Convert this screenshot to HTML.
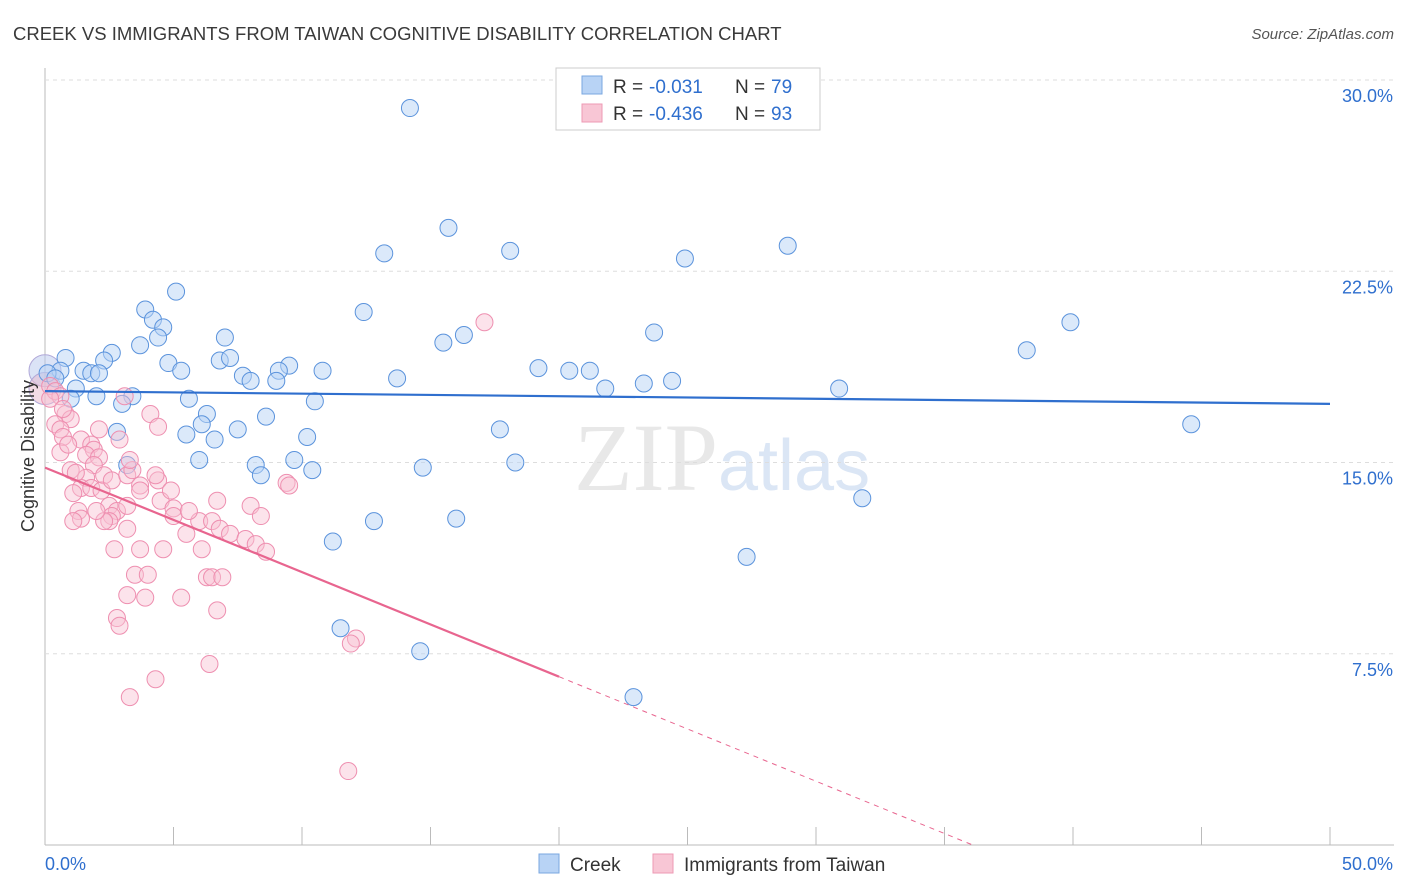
<!DOCTYPE html>
<html><head><meta charset="utf-8"><style>
body{margin:0;background:#fff;font-family:"Liberation Sans",sans-serif;}
svg{display:block}
</style></head><body>
<svg id="c" width="1406" height="892">
<text x="13" y="40" font-size="18.5" fill="#3a3a3a">CREEK VS IMMIGRANTS FROM TAIWAN COGNITIVE DISABILITY CORRELATION CHART</text>
<text x="1394" y="39" font-size="15" fill="#555" text-anchor="end" font-style="italic">Source: ZipAtlas.com</text>
<text x="718" y="490" font-size="96" fill="#e8e8e8" text-anchor="end" font-family="Liberation Serif">ZIP</text>
<text x="718" y="490" font-size="72" fill="#dbe6f5">atlas</text>
<g id="grid"></g><g id="marks"></g>
<text transform="translate(34,456) rotate(-90)" font-size="18" fill="#333" text-anchor="middle">Cognitive Disability</text>
<g>
<rect x="556" y="68" width="264" height="62" fill="#fff" stroke="#ccc"/>
<rect x="582" y="76" width="20" height="18" fill="#b8d3f5" stroke="#7aa7e0"/>
<rect x="582" y="104" width="20" height="18" fill="#f8c6d5" stroke="#ee9ab4"/>
<text x="613" y="93" font-size="19" fill="#333">R =</text>
<text x="649" y="93" font-size="19" fill="#2f6fce">-0.031</text>
<text x="735" y="93" font-size="19" fill="#333">N =</text>
<text x="771" y="93" font-size="19" fill="#2f6fce">79</text>
<text x="613" y="120" font-size="19" fill="#333">R =</text>
<text x="649" y="120" font-size="19" fill="#2f6fce">-0.436</text>
<text x="735" y="120" font-size="19" fill="#333">N =</text>
<text x="771" y="120" font-size="19" fill="#2f6fce">93</text>
</g>
<g>
<rect x="539" y="854" width="20" height="19" fill="#b8d3f5" stroke="#7aa7e0"/>
<text x="570" y="871" font-size="19" fill="#333">Creek</text>
<rect x="653" y="854" width="20" height="19" fill="#f8c6d5" stroke="#ee9ab4"/>
<text x="684" y="871" font-size="19" fill="#333">Immigrants from Taiwan</text>
</g>
</svg>
<script>
const yTicks=[7.5,15,22.5,30];
const yTickLabels=["7.5%","15.0%","22.5%","30.0%"];
const xTickLabels=["0.0%","50.0%"];
const creekX=[14.2,15.7,13.2,18.1,24.9,28.9,5.1,3.9,4.2,4.6,12.4,39.9,23.7,16.3,15.5,7.0,3.7,4.4,0.8,2.6,2.3,4.8,6.8,7.2,9.5,5.3,1.5,1.8,2.1,0.6,7.7,9.1,9.0,8.0,10.8,19.2,20.4,21.2,13.7,23.3,24.4,21.8,30.9,38.2,1.2,2.0,1.0,3.4,3.0,5.6,10.5,6.3,8.6,6.1,7.5,6.6,5.5,2.8,10.2,17.7,44.6,6.0,3.2,8.2,8.4,9.7,10.4,14.7,18.3,31.8,12.8,16.0,11.2,27.3,11.5,14.6,22.9,0.1,0.4];
const creekY=[28.9,24.2,23.2,23.3,23.0,23.5,21.7,21.0,20.6,20.3,20.9,20.5,20.1,20.0,19.7,19.9,19.6,19.9,19.1,19.3,19.0,18.9,19.0,19.1,18.8,18.6,18.6,18.5,18.5,18.6,18.4,18.6,18.2,18.2,18.6,18.7,18.6,18.6,18.3,18.1,18.2,17.9,17.9,19.4,17.9,17.6,17.5,17.6,17.3,17.5,17.4,16.9,16.8,16.5,16.3,15.9,16.1,16.2,16.0,16.3,16.5,15.1,14.9,14.9,14.5,15.1,14.7,14.8,15.0,13.6,12.7,12.8,11.9,11.3,8.5,7.6,5.8,18.5,18.3];
const taiwanX=[17.1,0.2,0.4,0.6,0.2,0.8,0.4,1.0,0.6,0.7,1.4,1.8,1.9,1.6,0.6,2.1,1.0,1.9,2.3,1.6,1.4,1.1,1.8,2.2,2.6,4.1,4.4,3.1,2.5,2.8,3.2,1.3,1.4,1.1,2.6,2.5,2.3,3.2,2.7,3.7,4.6,4.4,4.5,5.0,5.5,6.0,6.5,6.7,6.8,7.2,8.0,8.4,7.8,8.2,8.6,9.4,9.5,3.2,3.7,4.9,4.3,5.0,6.1,3.5,4.0,6.3,6.5,6.9,3.2,3.9,5.3,6.7,2.8,2.9,12.1,11.9,6.4,4.3,3.3,11.8,3.4,2.1,2.9,0.9,1.2,3.3,3.7,2.0,5.6,0.7];
const taiwanY=[20.5,18.0,17.8,17.6,17.5,16.9,16.5,16.7,16.3,16.0,15.9,15.7,15.5,15.3,15.4,15.2,14.7,14.9,14.5,14.4,14.0,13.8,14.0,13.9,14.3,16.9,16.4,17.6,13.3,13.1,13.3,13.1,12.8,12.7,12.9,12.7,12.7,12.4,11.6,11.6,11.6,14.3,13.5,13.2,12.2,12.7,12.7,13.5,12.4,12.2,13.3,12.9,12.0,11.8,11.5,14.2,14.1,14.5,14.1,13.9,14.5,12.9,11.6,10.6,10.6,10.5,10.5,10.5,9.8,9.7,9.7,9.2,8.9,8.6,8.1,7.9,7.1,6.5,5.8,2.9,14.7,16.3,15.9,15.7,14.6,15.1,13.9,13.1,13.1,17.1];
const creekTrend=[17.8,17.3];
const taiwanTrend=[14.8,6.6];
const taiwanSolidEnd=20;

const X0=45,X1=1330,Y0=845,Y30=80;
const sx=v=>X0+(X1-X0)*v/50;
const sy=v=>Y0-(Y0-Y30)*v/30;
const NS="http://www.w3.org/2000/svg";
function mk(tag,attrs,parent){const e=document.createElementNS(NS,tag);for(const k in attrs)e.setAttribute(k,attrs[k]);parent.appendChild(e);return e;}
const grid=document.getElementById('grid'),marks=document.getElementById('marks');
let e=mk('line',{x1:X0,x2:X0,y1:68,y2:Y0,stroke:'#bbb'},grid);


e=mk('line',{x1:X0,x2:1394,y1:Y0,y2:Y0,stroke:'#bbb'},grid);


yTicks.forEach((t,i)=>{
  const g=mk('line',{x1:X0,x2:1394,y1:sy(t),y2:sy(t),stroke:'#ddd','stroke-dasharray':'4,4'},grid);
  
  
  const l=mk('text',{x:1393,y:sy(t)+22,'font-size':18,fill:'#2f6fce','text-anchor':'end'},grid);l.textContent=yTickLabels[i];
  
  
});
for(let i=0;i<=10;i++){const t=mk('line',{x1:sx(i*5),x2:sx(i*5),y1:Y0,y2:Y0-18,stroke:'#bbb'},grid);
  
  }
[[0,'start',45],[50,'end',1393]].forEach((d,i)=>{const l=mk('text',{x:d[2],y:870,'font-size':18,fill:'#2f6fce','text-anchor':d[1]},grid);l.textContent=xTickLabels[i];
  
  });
[[0,18.6,'#b8c8ee'],[0,17.9,'#e8b8cc']].forEach(d=>{const c=mk('circle',{cx:sx(d[0]),cy:sy(d[1]),r:16,fill:d[2],'fill-opacity':0.5,stroke:'#b0a8d8'},marks);
  
  });
creekX.forEach((x,i)=>{const c=mk('circle',{cx:sx(x),cy:sy(creekY[i]),r:8.5,fill:'#b8d3f5','fill-opacity':0.5,stroke:'#5b93dc','stroke-width':1},marks);
  
  });
taiwanX.forEach((x,i)=>{const c=mk('circle',{cx:sx(x),cy:sy(taiwanY[i]),r:8.5,fill:'#f8c0d2','fill-opacity':0.45,stroke:'#ee8fb0','stroke-width':1},marks);
  
  });
e=mk('line',{x1:sx(0),y1:sy(creekTrend[0]),x2:sx(50),y2:sy(creekTrend[1]),stroke:'#2f6fce','stroke-width':2.2},marks);


const slope=(taiwanTrend[1]-taiwanTrend[0])/taiwanSolidEnd;
e=mk('line',{x1:sx(0),y1:sy(taiwanTrend[0]),x2:sx(taiwanSolidEnd),y2:sy(taiwanTrend[1]),stroke:'#e8658f','stroke-width':2.2},marks);


const xEnd=-taiwanTrend[0]/slope;
e=mk('line',{x1:sx(taiwanSolidEnd),y1:sy(taiwanTrend[1]),x2:sx(xEnd),y2:sy(0),stroke:'#e8658f','stroke-width':1,'stroke-dasharray':'5,5'},marks);


</script>
</body></html>
